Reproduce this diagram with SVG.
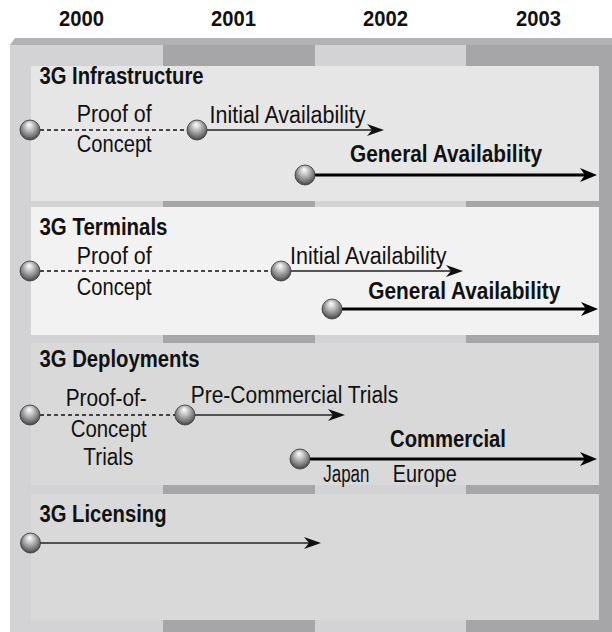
<svg xmlns="http://www.w3.org/2000/svg" width="612" height="632" viewBox="0 0 612 632">
<defs>
<radialGradient id="ball" cx="0.5" cy="0.42" r="0.62" fx="0.45" fy="0.22">
<stop offset="0" stop-color="#ffffff"/>
<stop offset="0.3" stop-color="#cccccc"/>
<stop offset="0.75" stop-color="#737373"/>
<stop offset="1" stop-color="#383838"/>
</radialGradient>
<marker id="arr" markerUnits="userSpaceOnUse" markerWidth="20" markerHeight="16" viewBox="0 -8 20 16" refX="5" refY="0" orient="auto">
<path d="M0,-6 L17,0 L0,6 L5,0 Z" fill="#111"/>
</marker>
<marker id="arrB" markerUnits="userSpaceOnUse" markerWidth="20" markerHeight="18" viewBox="0 -9 20 18" refX="5" refY="0" orient="auto">
<path d="M0,-7 L17,0 L0,7 L5,0 Z" fill="#000"/>
</marker>
</defs>
<style>
text{font-family:"Liberation Sans",Arial,sans-serif;fill:#111}
.yr{font-weight:bold;font-size:22px}
.ttl{font-weight:bold;font-size:23px}
.lbl{font-size:23px}
.bl{font-weight:bold;font-size:23px}
.dash{stroke:#111;stroke-width:1.4;stroke-dasharray:4 3;fill:none}
.thin{stroke:#222;stroke-width:1.7;fill:none;marker-end:url(#arr)}
.thick{stroke:#000;stroke-width:3.2;fill:none;marker-end:url(#arrB)}
.ball{fill:url(#ball);stroke:#333;stroke-width:0.8}
.lt{fill:#d3d3d5}
.dk{fill:#a6a6a8}
</style>
<rect width="612" height="632" fill="#ffffff"/>
<g id="timeline-years">
<text class="yr" x="59" y="26" textLength="45" lengthAdjust="spacingAndGlyphs">2000</text>
<text class="yr" x="211" y="26" textLength="45" lengthAdjust="spacingAndGlyphs">2001</text>
<text class="yr" x="363" y="26" textLength="45" lengthAdjust="spacingAndGlyphs">2002</text>
<text class="yr" x="516" y="26" textLength="45" lengthAdjust="spacingAndGlyphs">2003</text>
</g>
<g id="year-columns">
<polygon points="10,45 15,38 612,38 612,45" fill="#b2b2b4"/>
<rect class="lt" x="10" y="45" width="153" height="587"/>
<rect class="dk" x="163" y="45" width="152" height="587"/>
<rect class="lt" x="315" y="45" width="151" height="587"/>
<rect class="dk" x="466" y="45" width="146" height="587"/>
</g>
<g id="panel-infrastructure">
<rect x="31" y="66" width="568" height="135" fill="#e6e6e6"/>
<text class="ttl" x="39.5" y="84" textLength="164" lengthAdjust="spacingAndGlyphs">3G Infrastructure</text>
</g>
<g id="panel-terminals">
<rect x="31" y="207" width="568" height="128" fill="#f2f2f2"/>
<text class="ttl" x="39.5" y="235" textLength="128" lengthAdjust="spacingAndGlyphs">3G Terminals</text>
</g>
<g id="panel-deployments">
<rect x="31" y="343" width="568" height="142" fill="#d9d9d9"/>
<text class="ttl" x="39.5" y="367" textLength="160" lengthAdjust="spacingAndGlyphs">3G Deployments</text>
</g>
<g id="panel-licensing">
<rect x="31" y="494" width="568" height="126" fill="#d9d9d9"/>
<text class="ttl" x="39.5" y="522" textLength="127" lengthAdjust="spacingAndGlyphs">3G Licensing</text>
</g>
<g id="connectors">
<line class="dash" x1="40" y1="130" x2="187" y2="130"/>
<line class="thin" x1="207" y1="130" x2="372" y2="130"/>
<line class="thick" x1="315" y1="175" x2="585" y2="175"/>
<line class="dash" x1="40" y1="271" x2="271" y2="271"/>
<line class="thin" x1="291" y1="271" x2="451" y2="271"/>
<line class="thick" x1="342" y1="309" x2="586" y2="309"/>
<line class="dash" x1="40" y1="415" x2="175" y2="415"/>
<line class="thin" x1="195" y1="415" x2="333" y2="415"/>
<line class="thick" x1="310" y1="459" x2="585" y2="459"/>
<line class="thin" x1="40" y1="543" x2="309" y2="543"/>
</g>
<g id="infra-proof">
<circle class="ball" cx="30" cy="130" r="10"/>
<text class="lbl" x="76.7" y="122" textLength="75" lengthAdjust="spacingAndGlyphs">Proof of</text>
<text class="lbl" x="76.7" y="152" textLength="75" lengthAdjust="spacingAndGlyphs">Concept</text>
</g>
<g id="infra-initial">
<circle class="ball" cx="197" cy="130" r="10"/>
<text class="lbl" x="209.5" y="122.5" textLength="156" lengthAdjust="spacingAndGlyphs">Initial Availability</text>
</g>
<g id="infra-general">
<circle class="ball" cx="305" cy="175" r="10"/>
<text class="bl" x="350" y="162" textLength="192" lengthAdjust="spacingAndGlyphs">General Availability</text>
</g>
<g id="term-proof">
<circle class="ball" cx="30" cy="271" r="10"/>
<text class="lbl" x="76.7" y="264" textLength="75" lengthAdjust="spacingAndGlyphs">Proof of</text>
<text class="lbl" x="76.7" y="295" textLength="75" lengthAdjust="spacingAndGlyphs">Concept</text>
</g>
<g id="term-initial">
<circle class="ball" cx="281" cy="271" r="10"/>
<text class="lbl" x="290" y="264" textLength="156.5" lengthAdjust="spacingAndGlyphs">Initial Availability</text>
</g>
<g id="term-general">
<circle class="ball" cx="332" cy="309" r="10"/>
<text class="bl" x="368.3" y="298.5" textLength="192" lengthAdjust="spacingAndGlyphs">General Availability</text>
</g>
<g id="deploy-proof">
<circle class="ball" cx="30" cy="415" r="10"/>
<text class="lbl" x="65.7" y="406" textLength="81" lengthAdjust="spacingAndGlyphs">Proof-of-</text>
<text class="lbl" x="70.7" y="437" textLength="76" lengthAdjust="spacingAndGlyphs">Concept</text>
<text class="lbl" x="83.3" y="465" textLength="50" lengthAdjust="spacingAndGlyphs">Trials</text>
</g>
<g id="deploy-precommercial">
<circle class="ball" cx="185" cy="415" r="10"/>
<text class="lbl" x="190.7" y="403" textLength="207.6" lengthAdjust="spacingAndGlyphs">Pre-Commercial Trials</text>
</g>
<g id="deploy-commercial">
<circle class="ball" cx="300" cy="459" r="10"/>
<text class="bl" x="390" y="447" textLength="116" lengthAdjust="spacingAndGlyphs">Commercial</text>
<text class="lbl" x="323.3" y="482" textLength="46" lengthAdjust="spacingAndGlyphs">Japan</text>
<text class="lbl" x="392.7" y="482" textLength="64" lengthAdjust="spacingAndGlyphs">Europe</text>
</g>
<g id="licensing-start">
<circle class="ball" cx="30.5" cy="543" r="10"/>
</g>
</svg>
